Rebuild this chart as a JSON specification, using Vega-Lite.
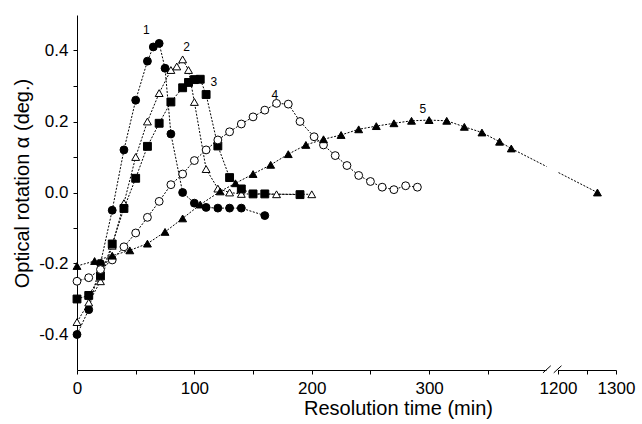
{
  "$schema": "https://vega.github.io/schema/vega-lite/v6.json",
  "width": 539,
  "height": 355,
  "autosize": "none",
  "padding": {"left": 77, "top": 15, "right": 26, "bottom": 54},
  "background": "white",
  "config": {
    "view": {"stroke": null},
    "font": "Liberation Sans",
    "axis": {
      "grid": false,
      "domainColor": "black",
      "tickColor": "black",
      "labelColor": "black",
      "titleColor": "black",
      "labelFont": "Liberation Sans",
      "titleFont": "Liberation Sans",
      "labelFontSize": 17,
      "titleFontSize": 20,
      "titleFontWeight": "normal",
      "tickSize": 4,
      "labelOverlap": false,
      "labelFlush": false
    }
  },
  "datasets": {
    "obs": [
      {"series": "1", "t": 0, "v": -0.40},
      {"series": "1", "t": 10, "v": -0.33},
      {"series": "1", "t": 20, "v": -0.20},
      {"series": "1", "t": 30, "v": -0.05},
      {"series": "1", "t": 40, "v": 0.12},
      {"series": "1", "t": 50, "v": 0.26},
      {"series": "1", "t": 60, "v": 0.37},
      {"series": "1", "t": 65, "v": 0.41},
      {"series": "1", "t": 70, "v": 0.42},
      {"series": "1", "t": 75, "v": 0.35},
      {"series": "1", "t": 80, "v": 0.165},
      {"series": "1", "t": 90, "v": 0.0},
      {"series": "1", "t": 100, "v": -0.03},
      {"series": "1", "t": 110, "v": -0.042},
      {"series": "1", "t": 120, "v": -0.044},
      {"series": "1", "t": 130, "v": -0.044},
      {"series": "1", "t": 140, "v": -0.044},
      {"series": "1", "t": 160, "v": -0.065},
      {"series": "2", "t": 0, "v": -0.365},
      {"series": "2", "t": 10, "v": -0.31},
      {"series": "2", "t": 20, "v": -0.25},
      {"series": "2", "t": 30, "v": -0.15},
      {"series": "2", "t": 40, "v": -0.03},
      {"series": "2", "t": 50, "v": 0.10},
      {"series": "2", "t": 60, "v": 0.20},
      {"series": "2", "t": 70, "v": 0.28},
      {"series": "2", "t": 80, "v": 0.345},
      {"series": "2", "t": 85, "v": 0.355},
      {"series": "2", "t": 90, "v": 0.375},
      {"series": "2", "t": 95, "v": 0.345},
      {"series": "2", "t": 100, "v": 0.255},
      {"series": "2", "t": 110, "v": 0.066},
      {"series": "2", "t": 120, "v": 0.011},
      {"series": "2", "t": 130, "v": 0.0},
      {"series": "2", "t": 140, "v": -0.004},
      {"series": "2", "t": 170, "v": -0.005},
      {"series": "2", "t": 200, "v": -0.005},
      {"series": "3", "t": 0, "v": -0.30},
      {"series": "3", "t": 10, "v": -0.29},
      {"series": "3", "t": 20, "v": -0.235},
      {"series": "3", "t": 30, "v": -0.145},
      {"series": "3", "t": 40, "v": -0.045},
      {"series": "3", "t": 50, "v": 0.04},
      {"series": "3", "t": 60, "v": 0.13},
      {"series": "3", "t": 70, "v": 0.195},
      {"series": "3", "t": 80, "v": 0.255},
      {"series": "3", "t": 90, "v": 0.295},
      {"series": "3", "t": 95, "v": 0.31},
      {"series": "3", "t": 100, "v": 0.318},
      {"series": "3", "t": 105, "v": 0.319},
      {"series": "3", "t": 110, "v": 0.276},
      {"series": "3", "t": 120, "v": 0.131},
      {"series": "3", "t": 130, "v": 0.042},
      {"series": "3", "t": 140, "v": 0.01},
      {"series": "3", "t": 150, "v": -0.004},
      {"series": "3", "t": 160, "v": -0.004},
      {"series": "3", "t": 190, "v": -0.006},
      {"series": "4", "t": 0, "v": -0.25},
      {"series": "4", "t": 10, "v": -0.24},
      {"series": "4", "t": 20, "v": -0.217},
      {"series": "4", "t": 30, "v": -0.19},
      {"series": "4", "t": 40, "v": -0.153},
      {"series": "4", "t": 50, "v": -0.114},
      {"series": "4", "t": 60, "v": -0.07},
      {"series": "4", "t": 70, "v": -0.025},
      {"series": "4", "t": 80, "v": 0.022},
      {"series": "4", "t": 90, "v": 0.052},
      {"series": "4", "t": 100, "v": 0.09},
      {"series": "4", "t": 110, "v": 0.12},
      {"series": "4", "t": 120, "v": 0.148},
      {"series": "4", "t": 130, "v": 0.171},
      {"series": "4", "t": 140, "v": 0.193},
      {"series": "4", "t": 150, "v": 0.213},
      {"series": "4", "t": 160, "v": 0.232},
      {"series": "4", "t": 170, "v": 0.251},
      {"series": "4", "t": 180, "v": 0.249},
      {"series": "4", "t": 190, "v": 0.2},
      {"series": "4", "t": 202, "v": 0.157},
      {"series": "4", "t": 210, "v": 0.134},
      {"series": "4", "t": 220, "v": 0.104},
      {"series": "4", "t": 230, "v": 0.076},
      {"series": "4", "t": 240, "v": 0.048},
      {"series": "4", "t": 250, "v": 0.031},
      {"series": "4", "t": 260, "v": 0.015},
      {"series": "4", "t": 270, "v": 0.008},
      {"series": "4", "t": 280, "v": 0.019},
      {"series": "4", "t": 290, "v": 0.015},
      {"series": "5", "t": 0, "v": -0.207},
      {"series": "5", "t": 15, "v": -0.193},
      {"series": "5", "t": 30, "v": -0.178},
      {"series": "5", "t": 45, "v": -0.163},
      {"series": "5", "t": 60, "v": -0.144},
      {"series": "5", "t": 75, "v": -0.111},
      {"series": "5", "t": 90, "v": -0.073},
      {"series": "5", "t": 105, "v": -0.034},
      {"series": "5", "t": 122, "v": 0.003},
      {"series": "5", "t": 135, "v": 0.026},
      {"series": "5", "t": 150, "v": 0.052},
      {"series": "5", "t": 165, "v": 0.078},
      {"series": "5", "t": 180, "v": 0.108},
      {"series": "5", "t": 195, "v": 0.134},
      {"series": "5", "t": 210, "v": 0.15},
      {"series": "5", "t": 225, "v": 0.162},
      {"series": "5", "t": 240, "v": 0.178},
      {"series": "5", "t": 255, "v": 0.187},
      {"series": "5", "t": 270, "v": 0.195},
      {"series": "5", "t": 285, "v": 0.202},
      {"series": "5", "t": 300, "v": 0.204},
      {"series": "5", "t": 315, "v": 0.202},
      {"series": "5", "t": 330, "v": 0.185},
      {"series": "5", "t": 345, "v": 0.169},
      {"series": "5", "t": 360, "v": 0.143},
      {"series": "5", "t": 370, "v": 0.124},
      {"series": "5", "t": 1268, "v": 0.0}
    ],
    "labels": [
      {"label": "1", "t": 59, "v": 0.458},
      {"label": "2", "t": 93.4, "v": 0.411},
      {"label": "3", "t": 116.6, "v": 0.311},
      {"label": "4", "t": 168.5, "v": 0.274},
      {"label": "5", "t": 294.7, "v": 0.235}
    ],
    "gap": [
      {"x1": 400, "x2": 1200, "y1": -0.515, "y2": 0.5}
    ],
    "slashes": [
      {"x1": 397, "x2": 696, "y1": -0.508, "y2": -0.488},
      {"x1": 904, "x2": 1206, "y1": -0.508, "y2": -0.488}
    ]
  },
  "layer": [
    {
      "data": {"name": "obs"},
      "mark": {"type": "line", "color": "black", "strokeWidth": 1, "strokeDash": [2, 1.5]},
      "encoding": {
        "x": {
          "field": "t",
          "type": "quantitative",
          "scale": {"type": "linear", "domain": [0, 400, 1200, 1300], "range": [0, 469.5, 481, 539], "nice": false, "zero": false},
          "axis": {
            "values": [0, 50, 100, 150, 200, 250, 300, 350, 1200, 1250, 1300],
            "labelExpr": "datum.value % 100 === 0 ? format(datum.value, 'd') : ''",
            "labelPadding": 6,
            "title": "Resolution time (min)",
            "titleX": 321,
            "titleY": 44,
            "titleAlign": "center",
            "titleBaseline": "alphabetic",
            "zindex": 0
          }
        },
        "y": {
          "field": "v",
          "type": "quantitative",
          "scale": {"domain": [-0.5, 0.5], "nice": false, "zero": false},
          "axis": {
            "values": [-0.4, -0.3, -0.2, -0.1, 0, 0.1, 0.2, 0.3, 0.4],
            "labelExpr": "round(datum.value * 10) % 2 === 0 ? replace(format(datum.value, '.1f'), '\u2212', '-') : ''",
            "labelPadding": 5,
            "title": "Optical rotation α (deg.)",
            "titleX": -49,
            "titleY": 168,
            "titleAlign": "center",
            "titleBaseline": "alphabetic",
            "titleAngle": -90,
            "zindex": 0
          }
        },
        "detail": {"field": "series", "type": "nominal"}
      }
    },
    {
      "data": {"name": "gap"},
      "mark": {"type": "rect", "color": "white", "clip": false},
      "encoding": {
        "x": {"field": "x1", "type": "quantitative", "title": "Resolution time (min)"},
        "x2": {"field": "x2"},
        "y": {"field": "y1", "type": "quantitative", "title": "Optical rotation α (deg.)"},
        "y2": {"field": "y2"}
      }
    },
    {
      "data": {"name": "slashes"},
      "mark": {"type": "rule", "color": "black", "strokeWidth": 1, "clip": false},
      "encoding": {
        "x": {"field": "x1", "type": "quantitative", "title": "Resolution time (min)"},
        "x2": {"field": "x2"},
        "y": {"field": "y1", "type": "quantitative", "title": "Optical rotation α (deg.)"},
        "y2": {"field": "y2"}
      }
    },
    {
      "data": {"name": "obs"},
      "mark": {"type": "point", "filled": true, "stroke": "black", "strokeWidth": 1, "opacity": 1, "size": 62},
      "encoding": {
        "x": {"field": "t", "type": "quantitative", "title": "Resolution time (min)"},
        "y": {"field": "v", "type": "quantitative", "title": "Optical rotation α (deg.)"},
        "shape": {
          "field": "series", "type": "nominal",
          "scale": {"domain": ["1", "2", "3", "4", "5"], "range": ["circle", "triangle-up", "square", "circle", "triangle-up"]},
          "legend": null
        },
        "fill": {
          "field": "series", "type": "nominal",
          "scale": {"domain": ["1", "2", "3", "4", "5"], "range": ["black", "white", "black", "white", "black"]},
          "legend": null
        }
      }
    },
    {
      "data": {"name": "labels"},
      "mark": {"type": "text", "fontSize": 12, "fill": "black", "align": "center", "baseline": "middle", "font": "Liberation Sans"},
      "encoding": {
        "x": {"field": "t", "type": "quantitative", "title": "Resolution time (min)"},
        "y": {"field": "v", "type": "quantitative", "title": "Optical rotation α (deg.)"},
        "text": {"field": "label"}
      }
    }
  ]
}
